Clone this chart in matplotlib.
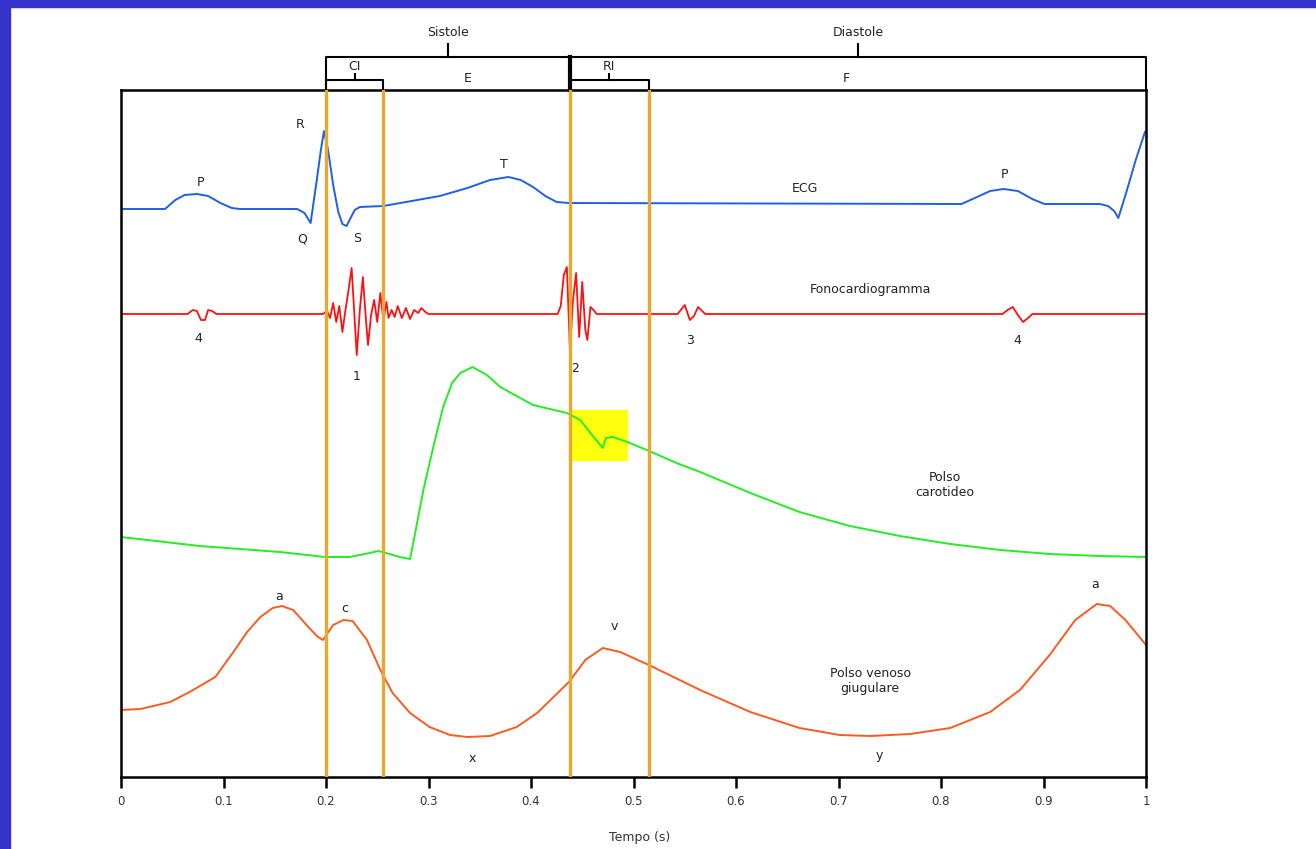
import numpy as np
import matplotlib
matplotlib.use("Agg")
import matplotlib.pyplot as plt
from matplotlib.patches import Rectangle

plt.rcParams['font.family'] = ['DejaVu Sans']

# ECG (tempo in s, ampiezza relativa alla linea di base)
ecg_t = [0, 0.043, 0.053, 0.062, 0.074, 0.085, 0.097, 0.108, 0.116, 0.172, 0.179, 0.185,
         0.191, 0.195, 0.198, 0.202, 0.207, 0.212, 0.216, 0.220, 0.223, 0.228, 0.233,
         0.256, 0.289, 0.311, 0.338, 0.360, 0.378, 0.390, 0.402, 0.414, 0.425, 0.437,
         0.820, 0.833, 0.848, 0.861, 0.875, 0.889, 0.901, 0.955, 0.963, 0.969, 0.973,
         0.980, 0.990, 0.999]
ecg_v = [0, 0, 9, 14, 15, 13, 6, 1, 0, 0, -4, -14,
         29, 59, 78, 59, 24, -3, -15, -17, -11, -1, 2,
         3, 9, 13, 21, 29, 32, 29, 22, 13, 7, 6,
         5, 11, 18, 20, 18, 10, 5, 5, 3, -2, -9,
         14, 49, 77]

# Fonocardiogramma
fono_t = [0, 0.065, 0.070, 0.074, 0.078, 0.082, 0.085, 0.089, 0.093, 0.197,
          0.201, 0.204, 0.207, 0.210, 0.213, 0.216, 0.219, 0.222, 0.225, 0.228,
          0.230, 0.233, 0.236, 0.239, 0.241, 0.244, 0.247, 0.250, 0.253, 0.256,
          0.259, 0.261, 0.264, 0.267, 0.270, 0.274, 0.278, 0.282, 0.286, 0.290,
          0.293, 0.297, 0.300, 0.426, 0.429, 0.432, 0.435, 0.438, 0.441, 0.444,
          0.447, 0.450, 0.453, 0.455, 0.458, 0.461, 0.464, 0.543, 0.550, 0.555,
          0.559, 0.563, 0.570, 0.860, 0.865, 0.870, 0.875, 0.880, 0.885, 0.889, 1.0]
fono_v = [0, 0, 4, 3, -6, -6, 4, 3, 0, 0,
          3, -4, 11, -8, 8, -18, 4, 24, 46, -6,
          -41, 4, 37, -6, -31, -1, 14, -8, 21, -6,
          12, -4, 4, -3, 8, -4, 6, -5, 4, 1,
          6, 2, 0, 0, 8, 39, 47, -36, 14, 41,
          -23, 32, -16, -26, 7, 4, 0, 0, 9, -6,
          -2, 7, 0, 0, 4, 7, -1, -8, -4, 0, 0]

# Polso carotideo
car_t = [0, 0.077, 0.155, 0.199, 0.223, 0.238, 0.251, 0.262, 0.272, 0.282, 0.287,
         0.295, 0.304, 0.314, 0.323, 0.331, 0.343, 0.357, 0.370, 0.402, 0.435,
         0.448, 0.458, 0.470, 0.473, 0.480, 0.494, 0.513, 0.542, 0.565, 0.614,
         0.662, 0.711, 0.760, 0.809, 0.858, 0.906, 0.955, 1.0]
car_v = [20, 11, 5, 0, 0, 3, 6, 3, 0, -2, 24,
         67, 107, 149, 174, 184, 190, 182, 170, 152, 144,
         137, 124, 109, 119, 120, 115, 107, 94, 85, 64,
         45, 31, 21, 13, 7, 3, 1, 0]

# Polso venoso giugulare
ven_t = [0, 0.019, 0.048, 0.067, 0.092, 0.109, 0.123, 0.136, 0.148, 0.157, 0.168,
         0.181, 0.191, 0.197, 0.207, 0.217, 0.226, 0.240, 0.253, 0.265, 0.282,
         0.301, 0.321, 0.338, 0.360, 0.386, 0.406, 0.419, 0.437, 0.453, 0.470,
         0.487, 0.515, 0.565, 0.614, 0.662, 0.701, 0.731, 0.770, 0.809, 0.848,
         0.877, 0.906, 0.931, 0.952, 0.965, 0.980, 1.0]
ven_v = [27, 28, 35, 45, 60, 84, 105, 120, 129, 131, 127,
         112, 101, 97, 112, 117, 116, 97, 67, 44, 24,
         10, 2, 0, 1, 10, 24, 37, 55, 77, 89,
         85, 72, 47, 25, 9, 2, 1, 3, 9, 25,
         47, 82, 117, 133, 131, 117, 92]

# limiti delle fasi (s)
fasi = [0.2, 0.256, 0.438, 0.515]
tick_lab = ['0', '0.1', '0.2', '0.3', '0.4', '0.5', '0.6', '0.7', '0.8', '0.9', '1']

fig = plt.figure(figsize=(13.16, 8.49), dpi=100)
fig.patches.append(Rectangle((0, 1 - 7 / 849), 1, 7 / 849, transform=fig.transFigure,
                             color='#3434cc', zorder=0))
fig.patches.append(Rectangle((0, 0), 10 / 1316, 1, transform=fig.transFigure,
                             color='#3434cc', zorder=0))

ax = fig.add_axes([121 / 1316, 72 / 849, 1025 / 1316, 687 / 849])
ax.set_xlim(0, 1)
ax.set_ylim(0, 687)

blu, rosso, verde, arancio = '#1f5fe6', '#ff1010', '#22ee22', '#ff5a1e'
ax.plot(ecg_t, np.array(ecg_v) + 568, color=blu, lw=1.4)
ax.plot(fono_t, np.array(fono_v) + 463, color=rosso, lw=1.3)
ax.plot(car_t, np.array(car_v) + 220, color=verde, lw=1.4)
ax.plot(ven_t, np.array(ven_v) + 40, color=arancio, lw=1.4)

ax.add_patch(Rectangle((0.437, 317), 0.057, 50, color='#ffff10', zorder=0.5))
for f in fasi:
    ax.axvline(f, color='#e6a82e', lw=2.4, zorder=3)

ax.set_xticks(np.arange(0, 1.01, 0.1))
ax.set_xticklabels(tick_lab)
ax.set_yticks([])
ax.tick_params(axis='x', direction='out', length=8, width=1.8, labelsize=8.5,
               pad=5, labelcolor='#333333')
for s in ax.spines.values():
    s.set_linewidth(1.8)
fig.text(640 / 1316, 1 - 838 / 849, 'Tempo (s)', fontsize=9, ha='center', va='center',
         color='#333333')

kw = dict(fontsize=9, ha='center', va='center', color='#222222')
etichette = [('R', 0.175, 652), ('Q', 0.177, 538), ('S', 0.230, 538), ('P', 0.078, 595),
             ('T', 0.374, 612), ('P', 0.862, 602), ('ECG', 0.667, 588),
             ('Fonocardiogramma', 0.731, 488), ('4', 0.075, 439), ('1', 0.230, 401),
             ('2', 0.443, 409), ('3', 0.555, 437), ('4', 0.874, 437),
             ('Polso\ncarotideo', 0.804, 292), ('a', 0.154, 181), ('c', 0.218, 168),
             ('x', 0.343, 19), ('v', 0.481, 150), ('y', 0.740, 22), ('a', 0.950, 192),
             ('Polso venoso\ngiugulare', 0.731, 96)]
for txt, x, y in etichette:
    ax.text(x, y, txt, linespacing=1.25, **kw)

# parentesi Sistole / Diastole sopra il grafico
def parentesi(x0, x1, y, ytop, testo, ytesto, lw=1.5):
    ax.plot([x0, x0, x1, x1], [687, y, y, 687], color='black', lw=lw, clip_on=False)
    xm = (x0 + x1) / 2
    ax.plot([xm, xm], [y, ytop], color='black', lw=lw, clip_on=False)
    ax.text(xm, ytesto, testo, clip_on=False, **kw)

parentesi(fasi[0], fasi[2], 720, 733, 'Sistole', 744)
parentesi(fasi[2], 1.0, 720, 733, 'Diastole', 744)
ax.plot([fasi[2], fasi[2]], [687, 720], color='black', lw=3, clip_on=False)
parentesi(fasi[0], fasi[1], 697, 703, 'CI', 710)
parentesi(fasi[2], fasi[3], 697, 703, 'RI', 710)
ax.text(0.338, 699, 'E', clip_on=False, **kw)
ax.text(0.708, 699, 'F', clip_on=False, **kw)

fig.savefig('out.png', dpi=100, facecolor='white')
